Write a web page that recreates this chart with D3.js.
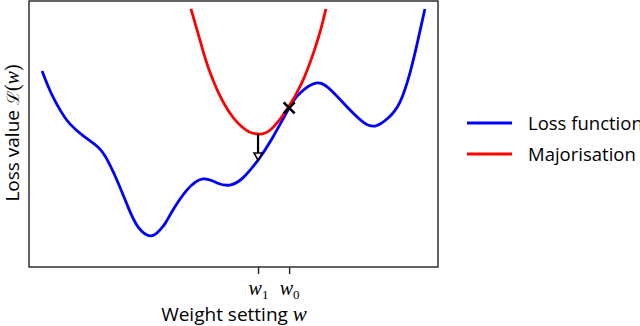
<!DOCTYPE html>
<html>
<head>
<meta charset="utf-8">
<script src="https://cdn.jsdelivr.net/npm/d3@7"></script>
<style>
  html, body { margin: 0; padding: 0; background: #fff; }
  svg { display: block; }
  .sans { font-family: "Open Sans", "DejaVu Sans", sans-serif; }
  .math { font-family: "Liberation Serif", "DejaVu Serif", serif; font-style: italic; }
</style>
</head>
<body>
<svg id="chart" width="640" height="326"></svg>
<script>
// ---- Data (arbitrary units 0..100) ----
const lossX = [3.2, 5.4, 7.8, 10.0, 13.2, 16.9, 19.3, 21.8, 24.2, 26.7, 29.8, 32.0, 33.3, 35.2, 38.6, 42.5, 46.0, 49.1, 52.3, 56.0, 59.4, 63.6, 66.3, 70.4, 74.3, 78.5, 81.7, 84.6, 87.8, 90.7, 93.2, 95.1, 96.8];
const lossY = [73.7, 65.4, 58.5, 53.8, 49.4, 45.0, 39.8, 31.6, 22.6, 15.0, 11.7, 13.9, 16.4, 21.4, 28.9, 33.1, 31.6, 30.8, 33.5, 40.2, 48.2, 59.8, 65.4, 69.2, 65.8, 59.0, 54.5, 53.0, 56.0, 62.0, 73.3, 85.3, 97.0];
const majX = [39.6, 41.3, 43.0, 44.7, 47.2, 50.4, 53.7, 56.0, 58.9, 63.3, 66.7, 69.2, 71.1, 72.6];
const majY = [97.0, 88.0, 78.9, 71.4, 62.8, 55.3, 50.9, 50.0, 51.4, 59.8, 69.2, 78.9, 88.0, 97.0];
const w0 = [63.6, 59.8];          // current point (cross)
const w1Arrow = [56.0, 50.0, 40.2]; // x, from y, to y
const tickValues = [56.0, 63.6];
const tickSubs = ["1", "0"];
const legendLabels = ["Loss function", "Majorisation"];
const legendColors = ["#0000ff", "#ff0000"];

// ---- Layout ----
const svg = d3.select("#chart");
const L = 29, R = 438, T = 1, B = 267;
const x = d3.scaleLinear().domain([0, 100]).range([L, R]);
const y = d3.scaleLinear().domain([0, 100]).range([B, T]);

const line = d3.line().x(d => x(d[0])).y(d => y(d[1])).curve(d3.curveNatural);

svg.append("defs").append("clipPath").attr("id", "clip")
  .append("rect").attr("x", L).attr("y", T).attr("width", R - L).attr("height", B - T);

const g = svg.append("g").attr("clip-path", "url(#clip)");

g.append("path").datum(d3.zip(lossX, lossY))
  .attr("d", line).attr("fill", "none").attr("stroke", legendColors[0])
  .attr("stroke-width", 2.8).attr("stroke-linejoin", "round");

g.append("path").datum(d3.zip(majX, majY))
  .attr("d", line).attr("fill", "none").attr("stroke", legendColors[1])
  .attr("stroke-width", 2.8).attr("stroke-linejoin", "round");

// arrow from w1 on majoriser down to loss
const ax = x(w1Arrow[0]), ay0 = y(w1Arrow[1]), ay1 = y(w1Arrow[2]);
svg.append("line").attr("x1", ax).attr("x2", ax).attr("y1", ay0).attr("y2", ay1 - 6)
  .attr("stroke", "#000").attr("stroke-width", 2.2);
svg.append("path")
  .attr("d", `M${ax - 4},${ay1 - 7} L${ax + 4},${ay1 - 7} L${ax},${ay1} Z`)
  .attr("fill", "#fff").attr("stroke", "#000").attr("stroke-width", 1.6).attr("stroke-linejoin", "miter");

// cross marker at w0
const cx = x(w0[0]), cy = y(w0[1]), cs = 5.5;
svg.append("path")
  .attr("d", `M${cx - cs},${cy - cs}L${cx + cs},${cy + cs}M${cx - cs},${cy + cs}L${cx + cs},${cy - cs}`)
  .attr("stroke", "#000").attr("stroke-width", 2.6).attr("fill", "none");

// frame
svg.append("rect").attr("x", L).attr("y", T).attr("width", R - L).attr("height", B - T)
  .attr("fill", "none").attr("stroke", "#222").attr("stroke-width", 1.4);

// x axis ticks
const xAxis = d3.axisBottom(x).tickValues(tickValues).tickSize(7).tickSizeOuter(0).tickFormat("");
const axg = svg.append("g").attr("transform", `translate(0,${B})`).call(xAxis);
axg.select(".domain").remove();
axg.selectAll(".tick line").attr("stroke", "#222").attr("stroke-width", 1.4);
axg.selectAll(".tick").each(function(d, i) {
  const t = d3.select(this).append("text")
    .attr("y", 28).attr("fill", "#000").attr("text-anchor", "middle")
    .attr("class", "math").style("font-size", "20px");
  t.append("tspan").text("w");
  t.append("tspan").attr("dy", 4).style("font-size", "13px").style("font-style", "normal").text(tickSubs[i]);
});

// x label
const xl = svg.append("text").attr("x", 234).attr("y", 321).attr("text-anchor", "middle")
  .attr("fill", "#000").style("font-size", "19px");
xl.append("tspan").attr("class", "sans").text("Weight setting ");
xl.append("tspan").attr("class", "math").style("font-size", "21px").text("w");

// y label
const yl = svg.append("text").attr("transform", "translate(19,133) rotate(-90)")
  .attr("text-anchor", "middle").attr("fill", "#000").style("font-size", "19px");
yl.append("tspan").attr("class", "sans").text("Loss value ");
yl.append("tspan").attr("class", "math").style("font-style", "normal").style("font-family", "DejaVu Serif").style("font-size", "17px").text("ℒ");
yl.append("tspan").attr("class", "math").style("font-style", "normal").style("font-size", "20px").text("(");
yl.append("tspan").attr("class", "math").style("font-size", "20px").text("w");
yl.append("tspan").attr("class", "math").style("font-style", "normal").style("font-size", "20px").text(")");

// legend
const lg = svg.append("g");
legendLabels.forEach((lab, i) => {
  const yy = 123 + i * 31;
  lg.append("line").attr("x1", 467).attr("x2", 512).attr("y1", yy).attr("y2", yy)
    .attr("stroke", legendColors[i]).attr("stroke-width", 2.8);
  lg.append("text").attr("x", 528).attr("y", yy + 7).attr("class", "sans")
    .style("font-size", "18.5px").attr("fill", "#000").text(lab);
});
</script>
</body>
</html>
